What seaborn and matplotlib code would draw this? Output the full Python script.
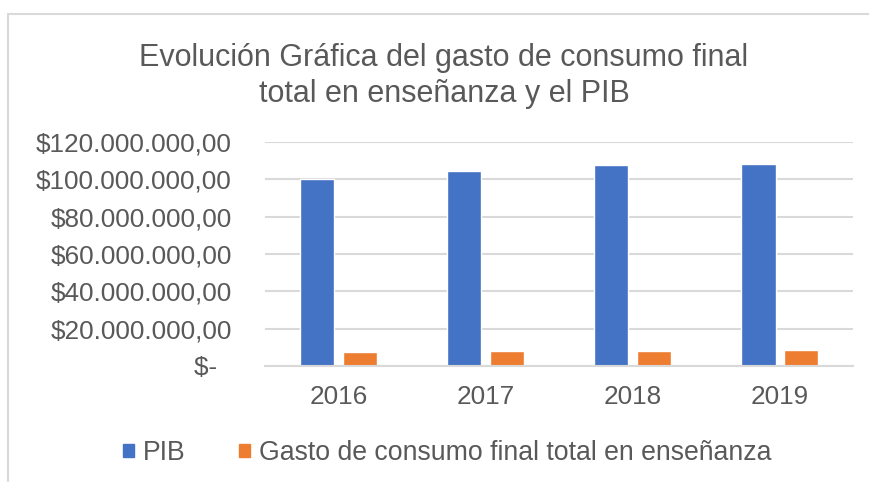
import pandas as pd
import seaborn as sns
import matplotlib.pyplot as plt
from matplotlib.patches import Rectangle
from matplotlib.lines import Line2D
from matplotlib.ticker import FuncFormatter

years = ["2016", "2017", "2018", "2019"]
pib = [100.2e6, 104.6e6, 107.9e6, 108.4e6]
gasto = [7.3e6, 7.85e6, 8.0e6, 8.4e6]
series = ["PIB", "Gasto de consumo final total en enseñanza"]
colors = ["#4472C4", "#ED7D31"]

df = pd.DataFrame({
    "year": years * 2,
    "value": pib + gasto,
    "serie": [series[0]] * 4 + [series[1]] * 4,
})


def money(v, pos):
    if v == 0:
        return "$-  "
    s = f"{v:,.2f}"
    s = s.replace(",", "X").replace(".", ",").replace("X", ".")
    return "$" + s


sns.set_style("white")
plt.rcParams["font.family"] = ["Liberation Sans", "DejaVu Sans"]
txt = "#595959"
grid = "#d9d9d9"

fig = plt.figure(figsize=(8.69, 4.82), dpi=100)
ax = fig.add_axes([0.305, 0.241, 0.677, 0.464])

sns.barplot(data=df, x="year", y="value", hue="serie", palette=colors,
            width=0.58, gap=0.2, ax=ax, legend=False, saturation=1)

ax.set_ylim(0, 120e6)
ax.set_yticks([0, 20e6, 40e6, 60e6, 80e6, 100e6, 120e6])
ax.yaxis.set_major_formatter(FuncFormatter(money))
ax.yaxis.grid(True, color=grid, linewidth=1.5)
ax.set_axisbelow(True)
for s in ["top", "right", "left"]:
    ax.spines[s].set_visible(False)
ax.spines["bottom"].set_color(grid)
ax.spines["bottom"].set_linewidth(1.5)
ax.tick_params(axis="y", length=0, pad=24, labelsize=18.8, labelcolor=txt)
ax.tick_params(axis="x", length=0, pad=14, labelsize=18.8, labelcolor=txt)
ax.set_xlabel("")
ax.set_ylabel("")

fig.text(0.511, 0.842, "Evolución Gráfica del gasto de consumo final\ntotal en enseñanza y el PIB",
         ha="center", va="center", fontsize=22, color=txt, linespacing=1.25)

handles = [Rectangle((0, 0), 1, 1, color=c) for c in colors]
fig.legend(handles, series, loc="center", bbox_to_anchor=(0.515, 0.06), ncol=2,
           frameon=False, fontsize=19.2, labelcolor=txt, handlelength=0.4,
           handleheight=0.4, handletextpad=0.35, columnspacing=2.0)

fig.add_artist(Line2D([8 / 869, 8 / 869], [0, 1 - 14 / 482], color=grid,
                      linewidth=1.5, transform=fig.transFigure))
fig.add_artist(Line2D([8 / 869, 1], [1 - 14 / 482, 1 - 14 / 482], color=grid,
                      linewidth=1.5, transform=fig.transFigure))

plt.savefig("out.png", dpi=100)
